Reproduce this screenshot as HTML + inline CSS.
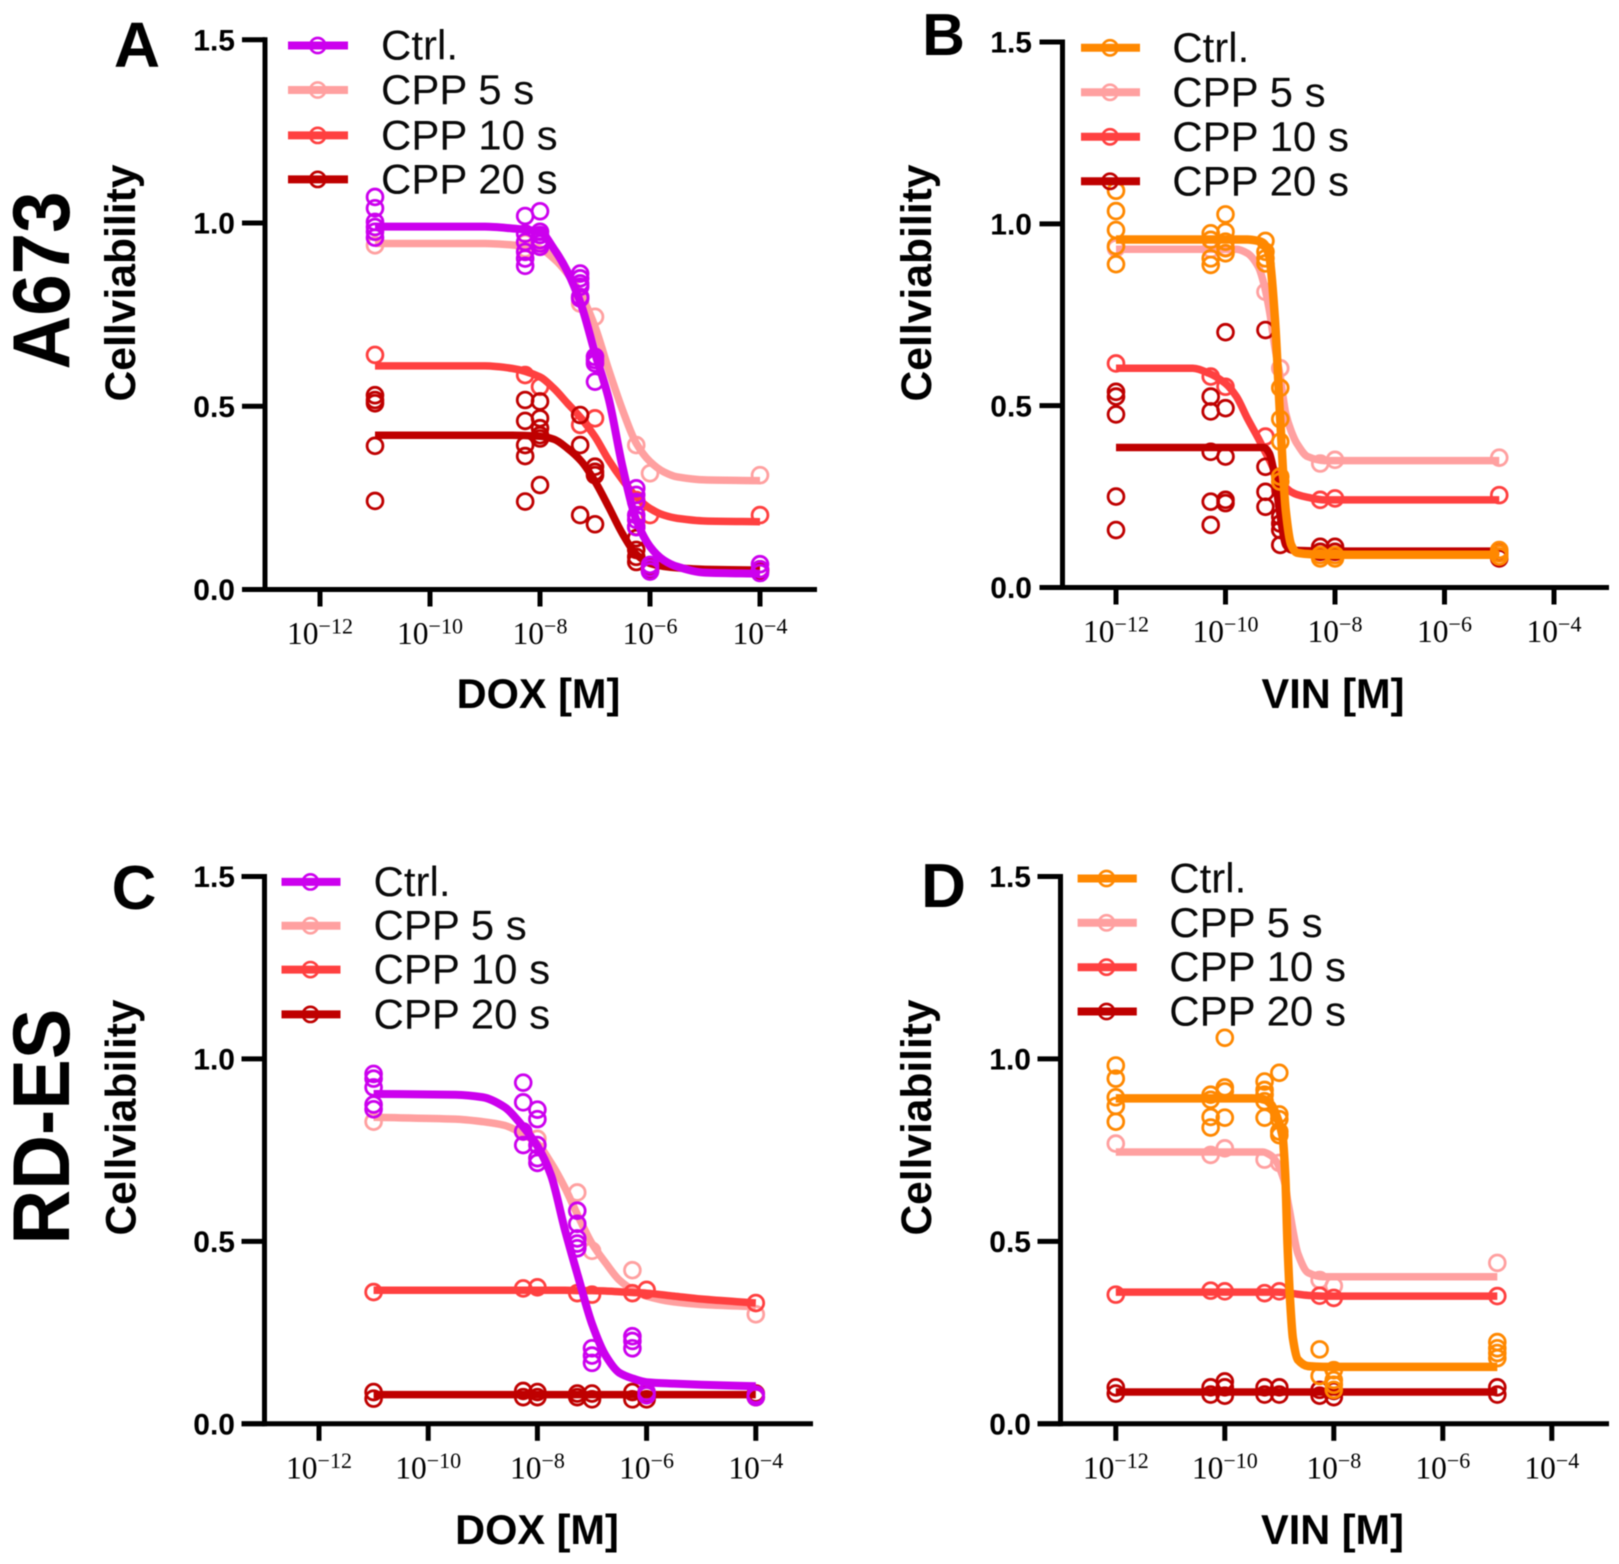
<!DOCTYPE html>
<html lang="en">
<head>
<meta charset="utf-8">
<title>Cell viability dose-response curves</title>
<style>
html,body{margin:0;padding:0;background:#fff;width:1619px;height:1564px;overflow:hidden}
svg{display:block;filter:blur(0.45px)}
text{font-family:"Liberation Sans",sans-serif}
.serif{font-family:"Liberation Serif",serif}
.leg{font-size:42px;fill:#0a0a0a}
.ttl{font-size:41.5px;font-weight:700;fill:#000}
.yt{font-size:43px;font-weight:700;fill:#000}
.let{font-size:62px;font-weight:700;fill:#000}
.row{font-size:81px;font-weight:700;fill:#000}
</style>
</head>
<body>
<svg id="figure" xmlns="http://www.w3.org/2000/svg" width="1619" height="1564" viewBox="0 0 1619 1564">
  <rect width="1619" height="1564" fill="#fff"/>

  <text class="row" transform="translate(69,280.5) rotate(-90)" text-anchor="middle" textLength="178" lengthAdjust="spacingAndGlyphs">A673</text>
  <text class="row" transform="translate(69,1126.6) rotate(-90)" text-anchor="middle" textLength="236" lengthAdjust="spacingAndGlyphs">RD-ES</text>

  <g id="panel-a">
    <text class="let" x="137" y="67" text-anchor="middle" font-size="64" style="font-size:64px">A</text>
    <text class="yt" transform="translate(135,283) rotate(-90)" text-anchor="middle" textLength="237" lengthAdjust="spacingAndGlyphs">Cellviability</text>
    <text class="ttl" x="538.5" y="708" text-anchor="middle">DOX [M]</text>
  </g>
  <g id="panel-b">
    <text class="let" x="943.5" y="55" text-anchor="middle" style="font-size:59px">B</text>
    <text class="yt" transform="translate(931,283) rotate(-90)" text-anchor="middle" textLength="237" lengthAdjust="spacingAndGlyphs">Cellviability</text>
    <text class="ttl" x="1333" y="708" text-anchor="middle">VIN [M]</text>
  </g>
  <g id="panel-c">
    <text class="let" x="134" y="909" text-anchor="middle">C</text>
    <text class="yt" transform="translate(135.5,1117.5) rotate(-90)" text-anchor="middle" textLength="236" lengthAdjust="spacingAndGlyphs">Cellviability</text>
    <text class="ttl" x="537" y="1544" text-anchor="middle">DOX [M]</text>
  </g>
  <g id="panel-d">
    <text class="let" x="943.5" y="907" text-anchor="middle">D</text>
    <text class="yt" transform="translate(931,1117.5) rotate(-90)" text-anchor="middle" textLength="236" lengthAdjust="spacingAndGlyphs">Cellviability</text>
    <text class="ttl" x="1332.5" y="1544" text-anchor="middle">VIN [M]</text>
  </g>

  <g id="legend-a" stroke-width="8">
    <g><line x1="288" x2="348" y1="45.5" y2="45.5" stroke="#cc00ee"/><circle cx="317.7" cy="45.5" r="7.6" fill="none" stroke="#cc00ee" stroke-width="2.6"/><text class="leg" x="381" y="59.5" stroke="none" fill="#333">Ctrl.</text></g>
    <g><line x1="288" x2="348" y1="90" y2="90" stroke="#ffa0a0"/><circle cx="317.7" cy="90" r="7.6" fill="none" stroke="#ffa0a0" stroke-width="2.6"/><text class="leg" x="381" y="104" stroke="none">CPP 5 s</text></g>
    <g><line x1="288" x2="348" y1="135.4" y2="135.4" stroke="#ff4040"/><circle cx="317.7" cy="135.4" r="7.6" fill="none" stroke="#ff4040" stroke-width="2.6"/><text class="leg" x="381" y="149.4" stroke="none">CPP 10 s</text></g>
    <g><line x1="288" x2="348" y1="179.4" y2="179.4" stroke="#bf0000"/><circle cx="317.7" cy="179.4" r="7.6" fill="none" stroke="#bf0000" stroke-width="2.6"/><text class="leg" x="381" y="193.4" stroke="none">CPP 20 s</text></g>
  </g>
  <g id="legend-b" stroke-width="8">
    <g><line x1="1081" x2="1140" y1="47.8" y2="47.8" stroke="#ff8800"/><circle cx="1110" cy="47.8" r="7.6" fill="none" stroke="#ff8800" stroke-width="2.6"/><text class="leg" x="1172.3" y="61.8" stroke="none" fill="#222">Ctrl.</text></g>
    <g><line x1="1081" x2="1140" y1="92.3" y2="92.3" stroke="#ffa0a0"/><circle cx="1110" cy="92.3" r="7.6" fill="none" stroke="#ffa0a0" stroke-width="2.6"/><text class="leg" x="1172.3" y="106.3" stroke="none">CPP 5 s</text></g>
    <g><line x1="1081" x2="1140" y1="136.8" y2="136.8" stroke="#ff4040"/><circle cx="1110" cy="136.8" r="7.6" fill="none" stroke="#ff4040" stroke-width="2.6"/><text class="leg" x="1172.3" y="150.8" stroke="none">CPP 10 s</text></g>
    <g><line x1="1081" x2="1140" y1="181.3" y2="181.3" stroke="#bf0000"/><circle cx="1110" cy="181.3" r="7.6" fill="none" stroke="#bf0000" stroke-width="2.6"/><text class="leg" x="1172.3" y="195.3" stroke="none">CPP 20 s</text></g>
  </g>
  <g id="legend-c" stroke-width="8">
    <g><line x1="281.5" x2="340.5" y1="881.9" y2="881.9" stroke="#cc00ee"/><circle cx="310.4" cy="881.9" r="7.6" fill="none" stroke="#cc00ee" stroke-width="2.6"/><text class="leg" x="373.5" y="895.9" stroke="none" fill="#333">Ctrl.</text></g>
    <g><line x1="281.5" x2="340.5" y1="925.7" y2="925.7" stroke="#ffa0a0"/><circle cx="310.4" cy="925.7" r="7.6" fill="none" stroke="#ffa0a0" stroke-width="2.6"/><text class="leg" x="373.5" y="939.7" stroke="none">CPP 5 s</text></g>
    <g><line x1="281.5" x2="340.5" y1="969.6" y2="969.6" stroke="#ff4040"/><circle cx="310.4" cy="969.6" r="7.6" fill="none" stroke="#ff4040" stroke-width="2.6"/><text class="leg" x="373.5" y="983.6" stroke="none">CPP 10 s</text></g>
    <g><line x1="281.5" x2="340.5" y1="1014.4" y2="1014.4" stroke="#bf0000"/><circle cx="310.4" cy="1014.4" r="7.6" fill="none" stroke="#bf0000" stroke-width="2.6"/><text class="leg" x="373.5" y="1028.4" stroke="none">CPP 20 s</text></g>
  </g>
  <g id="legend-d" stroke-width="8">
    <g><line x1="1077.6" x2="1136.8" y1="878.5" y2="878.5" stroke="#ff8800"/><circle cx="1106.5" cy="878.5" r="7.6" fill="none" stroke="#ff8800" stroke-width="2.6"/><text class="leg" x="1169.3" y="892.5" stroke="none" fill="#222">Ctrl.</text></g>
    <g><line x1="1077.6" x2="1136.8" y1="922.8" y2="922.8" stroke="#ffa0a0"/><circle cx="1106.5" cy="922.8" r="7.6" fill="none" stroke="#ffa0a0" stroke-width="2.6"/><text class="leg" x="1169.3" y="936.8" stroke="none">CPP 5 s</text></g>
    <g><line x1="1077.6" x2="1136.8" y1="967.2" y2="967.2" stroke="#ff4040"/><circle cx="1106.5" cy="967.2" r="7.6" fill="none" stroke="#ff4040" stroke-width="2.6"/><text class="leg" x="1169.3" y="981.2" stroke="none">CPP 10 s</text></g>
    <g><line x1="1077.6" x2="1136.8" y1="1011.5" y2="1011.5" stroke="#bf0000"/><circle cx="1106.5" cy="1011.5" r="7.6" fill="none" stroke="#bf0000" stroke-width="2.6"/><text class="leg" x="1169.3" y="1025.5" stroke="none">CPP 20 s</text></g>
  </g>
</svg>

<script>
// ---- shared axis data ----
const yTickValues = [0, 0.5, 1, 1.5];
const yTickLabels = ['0.0', '0.5', '1.0', '1.5'];
const xTickExponents = [-12, -10, -8, -6, -4];
const xTickLabelBase = '10';

// ---- Panel A (DOX, A673) ----
const panelADoses = [-11, -8.27, -8, -7.27, -7, -6.25, -6, -4];
const panelACtrlPoints = [[1.071,1.04,1.003,.989,.976,.96],[1.019,.971,.948,.921,.903,.883],[1.032,.976,.967,.953,.944,.935],[.862,.849,.835,.826,.798,.794],[.635,.626,.617,.567],[.276,.258,.239,.203,.19,.17],[.067,.058,.049],[.069,.055,.045]];
const panelACpp5Points = [[.939],[.945,.93],[.935],[.798,.78],[.744],[.394],[.317],[.312]];
const panelACpp10Points = [[.64],[.585],[.553],[.449],[.467],[.244],[.203],[.203]];
const panelACpp20Points = [[.53,.517,.508,.392,.2415],[.517,.46,.394,.364,.24],[.513,.467,.44,.421,.412,.285],[.476,.394,.203],[.335,.321,.312,.178],[.171,.14,.108,.089,.075],[.06,.052],[.055,.05]];
const panelACurveDoses = [-11,-9,-8.5,-8,-7.75,-7.5,-7.25,-7,-6.75,-6.5,-6.25,-6,-5.75,-5.5,-5,-4];
const panelACtrlCurve = [.99,.99,.985,.976,.93,.867,.776,.645,.52,.335,.19,.117,.08,.062,.046,.043];
const panelACpp5Curve = [.944,.944,.94,.93,.903,.862,.803,.717,.599,.49,.399,.349,.321,.307,.299,.297];
const panelACpp10Curve = [.61,.61,.603,.58,.549,.508,.467,.417,.353,.299,.253,.221,.203,.194,.187,.185];
const panelACpp20Curve = [.421,.421,.421,.418,.41,.385,.35,.295,.225,.152,.096,.071,.063,.059,.055,.053];

// ---- Panel B (VIN, A673) ----
const panelBDoses = [-12, -10.27, -10, -9.27, -9, -8.27, -8, -5];
const panelBCtrlPoints = [[1.091,1.035,.983,.939,.889],[.974,.956,.905,.887],[1.026,.978,.951,.933,.919],[.953,.923,.905,.891],[.549,.463,.401,.305,.291],[.089,.08],[.089,.08],[.103,.094,.085]];
const panelBCpp5Points = [[.933],[.93],[.935],[.813],[.603],[.341],[.351],[.357]];
const panelBCpp10Points = [[.616],[.58],[.552],[.415],[.268],[.241],[.245],[.254]];
const panelBCpp20Points = [[.538,.525,.476,.25,.158],[.525,.484,.373,.236,.172],[.702,.493,.36,.241,.232],[.708,.332,.263,.222],[.195,.176,.158,.117],[.112,.098],[.112,.098],[.08,.095]];
const panelBCurveDoses = [-12,-10.6,-10.3,-10,-9.8,-9.6,-9.4,-9.3,-9.2,-9.1,-9,-8.9,-8.8,-8.7,-8.5,-8.2,-5];
const panelBCtrlCurve = [.957,.957,.957,.957,.957,.957,.953,.946,.91,.745,.461,.213,.117,.096,.092,.09,.09];
const panelBCpp5Curve = [.93,.93,.93,.93,.93,.919,.882,.836,.763,.662,.58,.479,.43,.397,.36,.349,.349];
const panelBCpp10Curve = [.603,.603,.589,.561,.525,.465,.41,.38,.351,.32,.291,.275,.263,.256,.248,.241,.241];
const panelBCpp20Curve = [.385,.385,.385,.385,.385,.385,.385,.385,.369,.305,.195,.117,.103,.102,.101,.1,.1];

// ---- Panel C (DOX, RD-ES) ----
const panelCDoses = [-11, -8.26, -8, -7.27, -7, -6.26, -6, -4];
const panelCCtrlPoints = [[.959,.946,.922,.875,.862],[.935,.881,.801,.764],[.861,.835,.764,.728,.715],[.584,.548,.508,.494,.481],[.207,.187,.167],[.24,.227,.207],[.087,.078],[.08,.073]];
const panelCCpp5Points = [[.828],[.801],[.781],[.634],[.474],[.421],[.367],[.3]];
const panelCCpp10Points = [[.361],[.371],[.374],[.358],[.354],[.358],[.367],[.331]];
const panelCCpp20Points = [[.087,.069],[.09,.073],[.087,.073],[.083,.073],[.083,.067],[.087,.067],[.08,.067],[.083,.073]];
const panelCCurveDoses = [-11,-9.5,-9,-8.6,-8.3,-8,-7.75,-7.5,-7.25,-7,-6.75,-6.5,-6.25,-6,-5.5,-5,-4];
const panelCCtrlCurve = [.904,.902,.895,.868,.821,.761,.681,.534,.401,.274,.187,.14,.124,.114,.11,.107,.103];
const panelCCpp5Curve = [.84,.835,.828,.818,.797,.768,.715,.648,.568,.494,.441,.394,.367,.35,.334,.327,.321];
const panelCCpp10Curve = [.366,.366,.366,.366,.366,.366,.366,.366,.365,.365,.364,.362,.36,.358,.35,.342,.331];
const panelCCpp20Curve = [.08,.08,.08,.08,.08,.08,.08,.08,.08,.08,.08,.08,.08,.08,.08,.08,.08];

// ---- Panel D (VIN, RD-ES) ----
const panelDDoses = [-12, -10.26, -10, -9.27, -9, -8.26, -8, -5];
const panelDCtrlPoints = [[.982,.946,.895,.871,.828],[.902,.888,.841,.812],[1.058,.922,.911,.839],[.938,.915,.902,.884,.839],[.962,.848,.835,.801,.791],[.204,.131],[.147,.12,.107,.093],[.224,.207,.194,.18]];
const panelDCpp5Points = [[.768],[.737],[.755],[.724],[.715],[.394],[.378],[.441]];
const panelDCpp10Points = [[.354],[.365],[.363],[.358],[.363],[.351],[.345],[.35]];
const panelDCpp20Points = [[.1,.083],[.1,.08],[.116,.1,.077],[.1,.08],[.1,.08],[.093,.077],[.09,.073],[.1,.08]];
const panelDCurveDoses = [-12,-9.5,-9.3,-9.15,-9.04,-8.94,-8.89,-8.85,-8.8,-8.75,-8.66,-8.47,-8.2,-5];
const panelDCtrlCurve = [.892,.892,.89,.875,.84,.788,.68,.494,.334,.234,.176,.158,.156,.156];
const panelDCpp5Curve = [.745,.745,.745,.735,.715,.68,.654,.615,.574,.53,.467,.414,.403,.403];
const panelDCpp10Curve = [.361,.361,.361,.361,.361,.36,.36,.36,.358,.357,.355,.352,.35,.35];
const panelDCpp20Curve = [.087,.087,.087,.087,.087,.087,.087,.087,.087,.087,.087,.087,.087,.087];

const NS = 'http://www.w3.org/2000/svg';
const colorCpp5 = '#ffa0a0', colorCpp10 = '#ff4040', colorCpp20 = '#bf0000';

function make(tag) { return document.createElementNS(NS, tag); }

function monotonePath(px, py) {
  const n = px.length, d = [], m = [];
  for (let i = 0; i < n - 1; i++) d.push((py[i + 1] - py[i]) / (px[i + 1] - px[i]));
  m[0] = d[0]; m[n - 1] = d[n - 2];
  for (let i = 1; i < n - 1; i++) m[i] = d[i - 1] * d[i] <= 0 ? 0 : 2 * d[i - 1] * d[i] / (d[i - 1] + d[i]);
  let s = 'M' + px[0].toFixed(2) + ' ' + py[0].toFixed(2);
  for (let i = 0; i < n - 1; i++) {
    const h = (px[i + 1] - px[i]) / 3;
    s += 'C' + (px[i] + h).toFixed(2) + ' ' + (py[i] + m[i] * h).toFixed(2) + ' ' +
      (px[i + 1] - h).toFixed(2) + ' ' + (py[i + 1] - m[i + 1] * h).toFixed(2) + ' ' +
      px[i + 1].toFixed(2) + ' ' + py[i + 1].toFixed(2);
  }
  return s;
}

function drawPanel(cfg) {
  const root = document.getElementById(cfg.id);
  const xScale = v => cfg.xAt12 + (v + 12) * cfg.decade;
  const yScale = v => cfg.y0 + (cfg.y15 - cfg.y0) * v / 1.5;

  const axes = make('g');
  
  
  root.insertBefore(axes, root.firstChild);

  const yAxis = make('line');
  
  
  yAxis.setAttribute('x1', cfg.axisX);
  yAxis.setAttribute('x2', cfg.axisX);
  yAxis.setAttribute('y1', yScale(1.5) - 2.5);
  yAxis.setAttribute('y2', cfg.y0 + 2.5);
  yAxis.setAttribute('stroke', '#000');
  yAxis.setAttribute('stroke-width', '5');
  axes.appendChild(yAxis);

  const xAxis = make('line');
  
  
  xAxis.setAttribute('x1', cfg.axisX - 23);
  xAxis.setAttribute('x2', cfg.axisEnd);
  xAxis.setAttribute('y1', cfg.y0);
  xAxis.setAttribute('y2', cfg.y0);
  xAxis.setAttribute('stroke', '#000');
  xAxis.setAttribute('stroke-width', '5');
  axes.appendChild(xAxis);

  yTickValues.forEach((v, i) => {
    const t = make('line');
    
    
    t.setAttribute('x1', cfg.axisX - 23);
    t.setAttribute('x2', cfg.axisX);
    t.setAttribute('y1', yScale(v));
    t.setAttribute('y2', yScale(v));
    t.setAttribute('stroke', '#000');
    t.setAttribute('stroke-width', '5');
    axes.appendChild(t);
    const l = make('text');
    
    
    l.setAttribute('x', cfg.yLabelRight);
    l.setAttribute('y', yScale(v) + 10.7);
    l.setAttribute('text-anchor', 'end');
    l.setAttribute('font-size', '30');
    l.setAttribute('font-weight', '700');
    l.textContent = yTickLabels[i];
    axes.appendChild(l);
  });

  xTickExponents.forEach(e => {
    const t = make('line');
    
    
    t.setAttribute('x1', xScale(e));
    t.setAttribute('x2', xScale(e));
    t.setAttribute('y1', cfg.y0);
    t.setAttribute('y2', cfg.y0 + 17);
    t.setAttribute('stroke', '#000');
    t.setAttribute('stroke-width', '5');
    axes.appendChild(t);
    const l = make('text');
    
    
    l.setAttribute('class', 'serif');
    l.setAttribute('x', xScale(e));
    l.setAttribute('y', cfg.y0 + 54.5);
    l.setAttribute('text-anchor', 'middle');
    l.setAttribute('font-size', '31.5');
    l.setAttribute('fill', '#000');
    const base = make('tspan');
    
    
    base.textContent = xTickLabelBase;
    l.appendChild(base);
    const sup = make('tspan');
    
    
    sup.setAttribute('dy', '-10.5');
    sup.setAttribute('font-size', '22');
    sup.textContent = '\u2212' + Math.abs(e);
    l.appendChild(sup);
    axes.appendChild(l);
  });

  cfg.series.forEach(s => {
    const g = make('g');
    
    
    root.appendChild(g);
    const curve = make('path');
    
    
    curve.setAttribute('d', monotonePath(cfg.curveDoses.map(xScale), s.curve.map(yScale)));
    curve.setAttribute('fill', 'none');
    curve.setAttribute('stroke', s.color);
    curve.setAttribute('stroke-width', s.width);
    g.appendChild(curve);
    cfg.doses.forEach((dose, i) => {
      s.points[i].forEach(v => {
        const c = make('circle');
        
        
        c.setAttribute('cx', xScale(dose));
        c.setAttribute('cy', yScale(v));
        c.setAttribute('r', '7.9');
        c.setAttribute('fill', 'none');
        c.setAttribute('stroke', s.color);
        c.setAttribute('stroke-width', '2.8');
        g.appendChild(c);
      });
    });
  });
}

drawPanel({
  id: 'panel-a', xAt12: 320, decade: 55, y0: 589.5, y15: 39.7, axisX: 265, axisEnd: 817, yLabelRight: 235,
  doses: panelADoses, curveDoses: panelACurveDoses,
  series: [
    { name: 'cpp5', color: colorCpp5, width: 7.5, points: panelACpp5Points, curve: panelACpp5Curve },
    { name: 'cpp10', color: colorCpp10, width: 7.5, points: panelACpp10Points, curve: panelACpp10Curve },
    { name: 'cpp20', color: colorCpp20, width: 7.5, points: panelACpp20Points, curve: panelACpp20Curve },
    { name: 'ctrl', color: '#cc00ee', width: 8, points: panelACtrlPoints, curve: panelACtrlCurve }
  ]
});
drawPanel({
  id: 'panel-b', xAt12: 1116, decade: 54.75, y0: 587.5, y15: 42, axisX: 1062.5, axisEnd: 1609, yLabelRight: 1032,
  doses: panelBDoses, curveDoses: panelBCurveDoses,
  series: [
    { name: 'cpp5', color: colorCpp5, width: 7.5, points: panelBCpp5Points, curve: panelBCpp5Curve },
    { name: 'cpp10', color: colorCpp10, width: 7.5, points: panelBCpp10Points, curve: panelBCpp10Curve },
    { name: 'cpp20', color: colorCpp20, width: 7.5, points: panelBCpp20Points, curve: panelBCpp20Curve },
    { name: 'ctrl', color: '#ff8800', width: 8.5, points: panelBCtrlPoints, curve: panelBCtrlCurve }
  ]
});
drawPanel({
  id: 'panel-c', xAt12: 319, decade: 54.6, y0: 1423.8, y15: 876.5, axisX: 264.5, axisEnd: 813, yLabelRight: 235,
  doses: panelCDoses, curveDoses: panelCCurveDoses,
  series: [
    { name: 'cpp5', color: colorCpp5, width: 7.5, points: panelCCpp5Points, curve: panelCCpp5Curve },
    { name: 'cpp10', color: colorCpp10, width: 7.5, points: panelCCpp10Points, curve: panelCCpp10Curve },
    { name: 'cpp20', color: colorCpp20, width: 7.5, points: panelCCpp20Points, curve: panelCCpp20Curve },
    { name: 'ctrl', color: '#cc00ee', width: 8, points: panelCCtrlPoints, curve: panelCCtrlCurve }
  ]
});
drawPanel({
  id: 'panel-d', xAt12: 1115.8, decade: 54.5, y0: 1423.8, y15: 876.5, axisX: 1060.5, axisEnd: 1609, yLabelRight: 1031,
  doses: panelDDoses, curveDoses: panelDCurveDoses,
  series: [
    { name: 'cpp5', color: colorCpp5, width: 7.5, points: panelDCpp5Points, curve: panelDCpp5Curve },
    { name: 'cpp10', color: colorCpp10, width: 7.5, points: panelDCpp10Points, curve: panelDCpp10Curve },
    { name: 'cpp20', color: colorCpp20, width: 7.5, points: panelDCpp20Points, curve: panelDCpp20Curve },
    { name: 'ctrl', color: '#ff8800', width: 8.5, points: panelDCtrlPoints, curve: panelDCtrlCurve }
  ]
});
</script>
</body>
</html>
